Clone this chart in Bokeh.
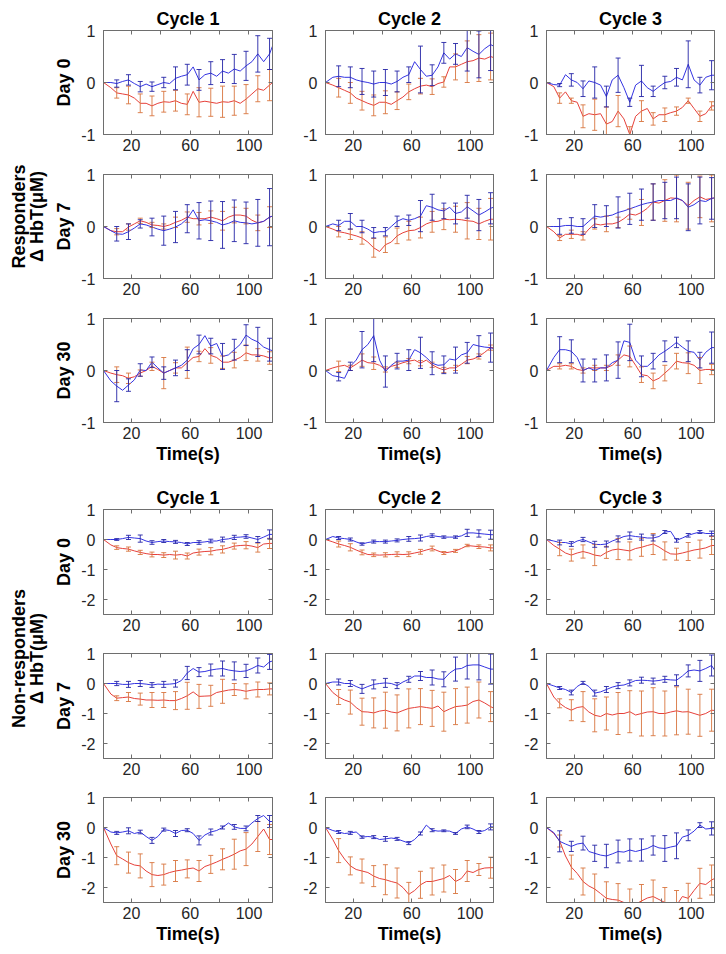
import math
from bokeh.plotting import figure
from bokeh.layouts import row, column
from bokeh.models import Range1d, FixedTicker, LinearAxis, Label, CustomLabelingPolicy
from bokeh.embed import file_html
from bokeh.resources import INLINE

# ---------------- data ----------------
X = [1, 6, 10, 14, 18, 22, 26, 30, 34, 38, 42, 46, 50, 54, 58, 62, 66, 70, 74, 78,
     82, 86, 90, 94, 98, 102, 106, 110, 114, 116]
ERR_X = [10, 18, 26, 34, 42, 50, 58, 66, 74, 82, 90, 98, 106, 114]
XTICKS = [20, 40, 60, 80, 100]
XTICK_LABELS = {20: "20", 40: "", 60: "60", 80: "", 100: "100"}
YTICKS_RESP = [-1, 0, 1]
YTICKS_NONRESP = [-2, -1, 0, 1]
CYCLES = ["Cycle 1", "Cycle 2", "Cycle 3"]
DAYS = ["Day 0", "Day 7", "Day 30"]
GROUPS = ["Responders", "Non-responders"]
YLABEL = "Δ HbT(μM)"
XLABEL = "Time(s)"

# Responders
R_D0_C1_BLUE = [0, 0.0, -0.02, 0.02, 0.05, -0.02, -0.08, -0.03, -0.08, -0.04, 0.0, -0.02, 0.08, 0.12, 0.15, 0.3, 0.05, 0.15, 0.18, 0.12, 0.22, 0.18, 0.26, 0.22, 0.32, 0.4, 0.55, 0.4, 0.55, 0.7]
R_D0_C1_BLUE_ERR = [0.07, 0.1, 0.1, 0.09, 0.1, 0.22, 0.2, 0.2, 0.22, 0.22, 0.28, 0.28, 0.35, 0.3]
R_D0_C1_RED = [0, -0.1, -0.2, -0.22, -0.24, -0.3, -0.4, -0.4, -0.45, -0.4, -0.37, -0.38, -0.35, -0.4, -0.42, -0.17, -0.38, -0.36, -0.38, -0.4, -0.37, -0.38, -0.35, -0.4, -0.32, -0.22, -0.12, -0.15, -0.05, 0.0]
R_D0_C1_RED_ERR = [0.1, 0.17, 0.18, 0.19, 0.2, 0.2, 0.2, 0.28, 0.27, 0.3, 0.28, 0.28, 0.25, 0.3]

R_D0_C2_BLUE = [0, 0.1, 0.12, 0.1, 0.1, 0.05, 0.02, 0.0, -0.03, 0.0, 0.0, -0.03, 0.02, 0.1, 0.15, 0.4, 0.25, 0.12, 0.14, 0.3, 0.57, 0.45, 0.55, 0.5, 0.67, 0.6, 0.54, 0.65, 0.73, 0.7]
R_D0_C2_BLUE_ERR = [0.2, 0.2, 0.25, 0.25, 0.25, 0.2, 0.15, 0.45, 0.2, 0.2, 0.2, 0.45, 0.45, 0.5]
R_D0_C2_RED = [0, -0.05, -0.1, -0.15, -0.2, -0.3, -0.35, -0.4, -0.44, -0.38, -0.38, -0.42, -0.35, -0.28, -0.18, -0.12, -0.07, -0.05, -0.08, -0.02, 0.01, 0.3, 0.3, 0.35, 0.4, 0.42, 0.47, 0.45, 0.5, 0.48]
R_D0_C2_RED_ERR = [0.18, 0.2, 0.18, 0.2, 0.22, 0.17, 0.15, 0.15, 0.15, 0.1, 0.25, 0.4, 0.45, 0.45]

R_D0_C3_BLUE = [0, -0.04, -0.05, 0.15, 0.05, 0.0, -0.12, 0.03, 0.0, -0.05, -0.27, 0.05, 0.14, -0.1, -0.38, -0.05, 0.03, -0.1, -0.17, -0.08, 0.0, 0.02, 0.1, 0.05, 0.35, 0.05, -0.05, 0.1, 0.14, 0.14]
R_D0_C3_BLUE_ERR = [0.03, 0.12, 0.15, 0.3, 0.2, 0.33, 0.08, 0.3, 0.1, 0.12, 0.17, 0.45, 0.15, 0.28]
R_D0_C3_RED = [0, -0.08, -0.3, -0.18, -0.35, -0.38, -0.65, -0.6, -0.62, -0.6, -0.8, -0.75, -0.55, -0.7, -1.0, -0.65, -0.55, -0.5, -0.7, -0.62, -0.62, -0.58, -0.55, -0.48, -0.35, -0.5, -0.65, -0.6, -0.45, -0.45]
R_D0_C3_RED_ERR = [0.1, 0.05, 0.22, 0.3, 0.33, 0.3, 0.15, 0.2, 0.12, 0.13, 0.08, 0.05, 0.1, 0.08]

R_D7_C1_BLUE = [0, -0.08, -0.14, -0.15, -0.1, -0.03, 0.05, 0.03, -0.01, -0.05, -0.08, -0.05, -0.01, 0.05, 0.15, 0.32, 0.11, 0.13, 0.11, 0.08, 0.03, 0.06, 0.11, 0.08, 0.07, 0.05, 0.07, 0.1, 0.18, 0.2]
R_D7_C1_BLUE_ERR = [0.14, 0.15, 0.08, 0.17, 0.28, 0.3, 0.27, 0.35, 0.38, 0.45, 0.4, 0.4, 0.45, 0.55]
R_D7_C1_RED = [0, -0.08, -0.1, -0.1, -0.01, 0.05, 0.11, 0.08, 0.03, 0.02, 0.0, 0.03, 0.08, 0.12, 0.18, 0.15, 0.15, 0.15, 0.18, 0.15, 0.11, 0.18, 0.22, 0.22, 0.2, 0.12, 0.07, 0.1, 0.18, 0.2]
R_D7_C1_RED_ERR = [0.06, 0.06, 0.05, 0.05, 0.05, 0.1, 0.1, 0.12, 0.12, 0.18, 0.15, 0.15, 0.15, 0.2]

R_D7_C2_BLUE = [0, 0.05, 0.02, 0.1, 0.1, 0.0, 0.0, -0.05, -0.12, -0.1, -0.1, 0.0, 0.1, 0.15, 0.12, 0.15, 0.2, 0.4, 0.37, 0.32, 0.3, 0.37, 0.25, 0.28, 0.38, 0.3, 0.22, 0.28, 0.35, 0.37]
R_D7_C2_BLUE_ERR = [0.1, 0.15, 0.12, 0.1, 0.08, 0.1, 0.1, 0.3, 0.25, 0.15, 0.2, 0.22, 0.3, 0.3]
R_D7_C2_RED = [0, -0.05, -0.1, -0.12, -0.15, -0.18, -0.22, -0.3, -0.41, -0.48, -0.35, -0.3, -0.18, -0.12, -0.08, -0.07, -0.02, 0.05, 0.09, 0.1, 0.14, 0.13, 0.14, 0.13, 0.11, 0.1, 0.05, 0.1, 0.14, 0.14]
R_D7_C2_RED_ERR = [0.1, 0.1, 0.12, 0.18, 0.15, 0.15, 0.18, 0.2, 0.2, 0.2, 0.25, 0.35, 0.3, 0.4]

R_D7_C3_BLUE = [0, 0.0, 0.0, 0.02, 0.02, 0.0, 0.0, 0.1, 0.2, 0.18, 0.2, 0.22, 0.27, 0.3, 0.34, 0.38, 0.42, 0.45, 0.47, 0.5, 0.5, 0.5, 0.55, 0.5, 0.37, 0.42, 0.5, 0.48, 0.54, 0.55]
R_D7_C3_BLUE_ERR = [0.15, 0.15, 0.15, 0.22, 0.2, 0.3, 0.3, 0.3, 0.35, 0.35, 0.4, 0.45, 0.45, 0.4]
R_D7_C3_RED = [0, -0.1, -0.22, -0.15, -0.15, -0.15, -0.18, -0.05, 0.05, 0.03, 0.05, 0.05, 0.08, 0.15, 0.24, 0.22, 0.27, 0.35, 0.47, 0.45, 0.5, 0.55, 0.54, 0.5, 0.4, 0.5, 0.57, 0.52, 0.54, 0.55]
R_D7_C3_RED_ERR = [0.05, 0.08, 0.08, 0.1, 0.15, 0.1, 0.1, 0.25, 0.35, 0.4, 0.45, 0.45, 0.4, 0.45]

R_D30_C1_BLUE = [0, -0.2, -0.3, -0.38, -0.28, -0.18, 0.01, 0.0, 0.16, 0.05, -0.05, 0.0, 0.05, 0.1, 0.2, 0.42, 0.5, 0.67, 0.47, 0.52, 0.27, 0.3, 0.4, 0.5, 0.68, 0.6, 0.55, 0.45, 0.4, 0.38]
R_D30_C1_BLUE_ERR = [0.3, 0.12, 0.12, 0.1, 0.12, 0.15, 0.2, 0.18, 0.15, 0.25, 0.2, 0.2, 0.28, 0.22]
R_D30_C1_RED = [0, -0.05, -0.08, -0.1, -0.15, -0.12, -0.05, 0.0, 0.08, 0.02, -0.05, 0.0, 0.05, 0.05, 0.15, 0.25, 0.27, 0.42, 0.29, 0.25, 0.16, 0.16, 0.2, 0.25, 0.34, 0.3, 0.3, 0.28, 0.24, 0.25]
R_D30_C1_RED_ERR = [0.15, 0.1, 0.06, 0.08, 0.3, 0.1, 0.3, 0.1, 0.15, 0.12, 0.15, 0.15, 0.12, 0.12]

R_D30_C2_BLUE = [0, -0.1, -0.12, -0.15, 0.08, 0.2, 0.4, 0.5, 0.67, 0.2, -0.02, 0.1, 0.18, 0.18, 0.2, 0.4, 0.34, 0.25, 0.14, 0.1, 0.11, 0.22, 0.2, 0.3, 0.34, 0.5, 0.47, 0.45, 0.44, 0.42]
R_D30_C2_BLUE_ERR = [0.08, 0.08, 0.35, 0.5, 0.3, 0.15, 0.2, 0.3, 0.22, 0.17, 0.25, 0.2, 0.2, 0.28]
R_D30_C2_RED = [0, 0.05, 0.08, 0.1, 0.05, 0.12, 0.2, 0.15, 0.14, 0.1, 0.02, 0.08, 0.11, 0.15, 0.18, 0.2, 0.14, 0.2, 0.11, 0.05, 0.01, 0.05, 0.05, 0.12, 0.2, 0.22, 0.27, 0.35, 0.44, 0.44]
R_D30_C2_RED_ERR = [0.1, 0.05, 0.12, 0.12, 0.05, 0.05, 0.05, 0.05, 0.05, 0.05, 0.05, 0.07, 0.05, 0.05]

R_D30_C3_BLUE = [0, 0.25, 0.4, 0.4, 0.37, 0.25, 0.0, 0.05, 0.0, 0.05, 0.05, 0.15, 0.2, 0.57, 0.54, 0.2, 0.08, 0.08, 0.18, 0.3, 0.37, 0.45, 0.54, 0.45, 0.37, 0.35, 0.2, 0.35, 0.44, 0.44]
R_D30_C3_BLUE_ERR = [0.25, 0.22, 0.22, 0.22, 0.25, 0.35, 0.35, 0.2, 0.15, 0.2, 0.1, 0.2, 0.15, 0.3]
R_D30_C3_RED = [0, 0.08, 0.08, 0.1, 0.08, 0.02, 0.0, 0.05, 0.05, 0.05, 0.05, 0.1, 0.2, 0.3, 0.27, 0.1, -0.08, -0.1, -0.2, -0.15, -0.05, 0.05, 0.18, 0.15, 0.14, 0.1, 0.0, 0.02, 0.02, 0.02]
R_D30_C3_RED_ERR = [0.05, 0.05, 0.05, 0.05, 0.05, 0.1, 0.2, 0.15, 0.15, 0.15, 0.15, 0.2, 0.25, 0.1]

# Non-responders
NR_D0_C1_BLUE = [0, 0.0, 0.0, 0.03, 0.07, 0.05, 0.03, -0.05, -0.1, -0.07, -0.05, -0.07, -0.08, -0.1, -0.15, -0.1, -0.1, -0.08, -0.05, -0.05, 0.0, 0.02, 0.07, 0.08, 0.1, 0.05, 0.0, 0.08, 0.17, 0.17]
NR_D0_C1_BLUE_ERR = [0.03, 0.07, 0.12, 0.06, 0.05, 0.05, 0.05, 0.06, 0.06, 0.08, 0.07, 0.06, 0.1, 0.15]
NR_D0_C1_RED = [0, -0.18, -0.27, -0.3, -0.32, -0.38, -0.43, -0.47, -0.5, -0.5, -0.52, -0.5, -0.52, -0.5, -0.55, -0.45, -0.42, -0.4, -0.39, -0.35, -0.33, -0.28, -0.22, -0.2, -0.19, -0.22, -0.27, -0.15, -0.13, -0.13]
NR_D0_C1_RED_ERR = [0.06, 0.07, 0.07, 0.08, 0.08, 0.13, 0.1, 0.1, 0.12, 0.12, 0.1, 0.12, 0.15, 0.17]

NR_D0_C2_BLUE = [0, 0.1, 0.05, 0.03, 0.0, -0.08, -0.15, -0.1, -0.07, -0.07, -0.07, -0.05, -0.03, 0.0, 0.02, 0.03, 0.05, 0.1, 0.13, 0.1, 0.08, 0.08, 0.08, 0.12, 0.22, 0.22, 0.2, 0.18, 0.16, 0.16]
NR_D0_C2_BLUE_ERR = [0.05, 0.05, 0.04, 0.05, 0.05, 0.05, 0.08, 0.1, 0.06, 0.04, 0.04, 0.12, 0.12, 0.15]
NR_D0_C2_RED = [0, -0.08, -0.15, -0.2, -0.26, -0.35, -0.43, -0.5, -0.51, -0.52, -0.51, -0.5, -0.49, -0.5, -0.49, -0.45, -0.41, -0.35, -0.3, -0.38, -0.45, -0.42, -0.38, -0.3, -0.2, -0.22, -0.24, -0.25, -0.28, -0.28]
NR_D0_C2_RED_ERR = [0.1, 0.12, 0.08, 0.06, 0.07, 0.08, 0.08, 0.08, 0.08, 0.05, 0.05, 0.04, 0.06, 0.1]

NR_D0_C3_BLUE = [0, -0.05, -0.1, -0.1, -0.15, -0.05, 0.0, -0.08, -0.16, -0.17, -0.15, -0.05, 0.02, 0.1, 0.13, 0.1, 0.08, 0.05, 0.05, 0.1, 0.25, 0.27, -0.03, 0.05, 0.14, 0.2, 0.25, 0.2, 0.2, 0.2]
NR_D0_C3_BLUE_ERR = [0.08, 0.08, 0.07, 0.1, 0.1, 0.1, 0.12, 0.1, 0.1, 0.05, 0.06, 0.06, 0.05, 0.08]
NR_D0_C3_RED = [0, -0.2, -0.32, -0.45, -0.52, -0.45, -0.4, -0.45, -0.52, -0.55, -0.43, -0.35, -0.32, -0.35, -0.38, -0.3, -0.26, -0.2, -0.15, -0.25, -0.38, -0.48, -0.49, -0.45, -0.4, -0.35, -0.32, -0.28, -0.2, -0.2]
NR_D0_C3_RED_ERR = [0.22, 0.2, 0.22, 0.35, 0.2, 0.35, 0.3, 0.3, 0.35, 0.3, 0.2, 0.3, 0.3, 0.3]

NR_D7_C1_BLUE = [0, 0.0, 0.0, -0.03, -0.03, 0.0, 0.0, -0.02, -0.05, -0.02, -0.03, -0.02, 0.0, 0.1, 0.35, 0.5, 0.38, 0.4, 0.45, 0.48, 0.5, 0.45, 0.42, 0.4, 0.42, 0.5, 0.6, 0.55, 0.72, 0.75]
NR_D7_C1_BLUE_ERR = [0.07, 0.1, 0.1, 0.08, 0.1, 0.12, 0.22, 0.15, 0.2, 0.25, 0.3, 0.22, 0.25, 0.25]
NR_D7_C1_RED = [0, -0.35, -0.49, -0.47, -0.45, -0.5, -0.52, -0.55, -0.55, -0.56, -0.55, -0.57, -0.57, -0.5, -0.41, -0.28, -0.43, -0.42, -0.41, -0.3, -0.26, -0.22, -0.2, -0.22, -0.26, -0.22, -0.2, -0.2, -0.18, -0.18]
NR_D7_C1_RED_ERR = [0.08, 0.15, 0.2, 0.25, 0.25, 0.3, 0.45, 0.4, 0.35, 0.4, 0.2, 0.25, 0.25, 0.2]

NR_D7_C2_BLUE = [0, 0.05, 0.05, 0.0, 0.0, -0.1, -0.18, -0.1, -0.03, 0.0, 0.02, 0.0, -0.07, 0.05, 0.14, 0.25, 0.25, 0.2, 0.2, 0.15, 0.14, 0.35, 0.48, 0.5, 0.6, 0.62, 0.62, 0.55, 0.48, 0.48]
NR_D7_C2_BLUE_ERR = [0.1, 0.1, 0.15, 0.15, 0.15, 0.1, 0.1, 0.15, 0.25, 0.25, 0.4, 0.45, 0.5, 0.5]
NR_D7_C2_RED = [0, -0.3, -0.45, -0.55, -0.62, -0.8, -0.94, -0.95, -0.98, -0.92, -0.89, -0.95, -0.98, -0.9, -0.83, -0.8, -0.77, -0.8, -0.83, -0.75, -0.94, -0.85, -0.77, -0.75, -0.72, -0.6, -0.55, -0.65, -0.77, -0.82]
NR_D7_C2_RED_ERR = [0.25, 0.4, 0.45, 0.5, 0.6, 0.6, 0.65, 0.6, 0.6, 0.65, 0.6, 0.6, 0.6, 0.5]

NR_D7_C3_BLUE = [0, -0.08, -0.15, -0.2, -0.3, -0.1, 0.02, -0.1, -0.32, -0.28, -0.2, -0.12, -0.07, -0.05, 0.02, 0.1, 0.11, 0.1, 0.08, 0.1, 0.14, 0.12, 0.11, 0.25, 0.42, 0.45, 0.42, 0.5, 0.6, 0.45]
NR_D7_C3_BLUE_ERR = [0.05, 0.08, 0.05, 0.1, 0.1, 0.1, 0.1, 0.1, 0.1, 0.1, 0.18, 0.2, 0.35, 0.35]
NR_D7_C3_RED = [0, -0.45, -0.66, -0.8, -0.89, -0.8, -0.77, -0.95, -1.06, -1.1, -1.0, -1.05, -1.0, -1.0, -0.94, -1.05, -1.0, -0.95, -0.94, -1.0, -1.0, -0.95, -0.91, -0.95, -0.94, -1.0, -1.06, -1.0, -0.89, -0.9]
NR_D7_C3_RED_ERR = [0.15, 0.35, 0.5, 0.55, 0.55, 0.7, 0.7, 0.75, 0.8, 0.75, 0.8, 0.75, 0.7, 0.7]

NR_D30_C1_BLUE = [0, -0.15, -0.18, -0.15, -0.11, -0.2, -0.15, -0.3, -0.43, -0.3, -0.07, -0.1, -0.2, -0.1, -0.09, -0.2, -0.43, -0.25, -0.15, -0.1, 0.0, 0.15, 0.02, -0.03, -0.03, 0.15, 0.3, 0.4, 0.2, 0.2]
NR_D30_C1_BLUE_ERR = [0.05, 0.1, 0.06, 0.1, 0.05, 0.1, 0.05, 0.15, 0.1, 0.05, 0.08, 0.08, 0.1, 0.2]
NR_D30_C1_RED = [0, -0.55, -0.94, -1.05, -1.17, -1.25, -1.28, -1.45, -1.57, -1.6, -1.57, -1.5, -1.45, -1.42, -1.38, -1.35, -1.45, -1.3, -1.23, -1.15, -1.06, -0.98, -0.89, -0.78, -0.72, -0.55, -0.3, -0.05, -0.4, -0.4]
NR_D30_C1_RED_ERR = [0.3, 0.35, 0.4, 0.4, 0.35, 0.35, 0.3, 0.35, 0.3, 0.35, 0.5, 0.55, 0.5, 0.5]

NR_D30_C2_BLUE = [0, -0.1, -0.15, -0.2, -0.18, -0.15, -0.32, -0.3, -0.32, -0.4, -0.38, -0.35, -0.38, -0.45, -0.52, -0.4, -0.2, 0.08, -0.09, -0.12, -0.11, -0.12, -0.2, -0.05, 0.02, -0.05, -0.15, -0.1, 0.02, 0.02]
NR_D30_C2_BLUE_ERR = [0.05, 0.05, 0.04, 0.05, 0.08, 0.05, 0.05, 0.05, 0.05, 0.03, 0.03, 0.06, 0.05, 0.1]
NR_D30_C2_RED = [0, -0.4, -0.77, -1.05, -1.28, -1.4, -1.45, -1.5, -1.62, -1.7, -1.74, -1.8, -1.85, -2.0, -2.23, -2.1, -1.91, -1.8, -1.8, -1.75, -1.7, -1.6, -1.8, -1.7, -1.45, -1.5, -1.4, -1.35, -1.34, -1.34]
NR_D30_C2_RED_ERR = [0.4, 0.3, 0.4, 0.35, 0.5, 0.5, 0.4, 0.45, 0.45, 0.45, 0.4, 0.35, 0.2, 0.35]

NR_D30_C3_BLUE = [0, -0.17, -0.46, -0.55, -0.63, -0.55, -0.52, -0.8, -0.86, -0.92, -0.95, -0.88, -0.8, -0.82, -0.75, -0.8, -0.75, -0.7, -0.6, -0.68, -0.7, -0.65, -0.61, -0.32, -0.26, -0.12, 0.08, -0.05, -0.03, -0.05]
NR_D30_C3_BLUE_ERR = [0.35, 0.17, 0.23, 0.27, 0.39, 0.38, 0.37, 0.37, 0.32, 0.43, 0.43, 0.18, 0.08, 0.22]
NR_D30_C3_RED = [0, -0.2, -0.45, -0.95, -1.32, -1.53, -1.8, -1.95, -2.05, -2.2, -2.36, -2.4, -2.42, -2.5, -2.6, -2.55, -2.45, -2.35, -2.3, -2.4, -2.5, -2.55, -2.6, -2.3, -2.36, -2.1, -1.86, -1.9, -1.75, -1.7]
NR_D30_C3_RED_ERR = [0.2, 0.4, 0.45, 0.5, 0.55, 0.55, 0.55, 0.55, 0.55, 0.5, 0.5, 0.5, 0.5, 0.5]

PANELS = [
    [(R_D0_C1_BLUE, R_D0_C1_BLUE_ERR, R_D0_C1_RED, R_D0_C1_RED_ERR),
     (R_D0_C2_BLUE, R_D0_C2_BLUE_ERR, R_D0_C2_RED, R_D0_C2_RED_ERR),
     (R_D0_C3_BLUE, R_D0_C3_BLUE_ERR, R_D0_C3_RED, R_D0_C3_RED_ERR)],
    [(R_D7_C1_BLUE, R_D7_C1_BLUE_ERR, R_D7_C1_RED, R_D7_C1_RED_ERR),
     (R_D7_C2_BLUE, R_D7_C2_BLUE_ERR, R_D7_C2_RED, R_D7_C2_RED_ERR),
     (R_D7_C3_BLUE, R_D7_C3_BLUE_ERR, R_D7_C3_RED, R_D7_C3_RED_ERR)],
    [(R_D30_C1_BLUE, R_D30_C1_BLUE_ERR, R_D30_C1_RED, R_D30_C1_RED_ERR),
     (R_D30_C2_BLUE, R_D30_C2_BLUE_ERR, R_D30_C2_RED, R_D30_C2_RED_ERR),
     (R_D30_C3_BLUE, R_D30_C3_BLUE_ERR, R_D30_C3_RED, R_D30_C3_RED_ERR)],
    [(NR_D0_C1_BLUE, NR_D0_C1_BLUE_ERR, NR_D0_C1_RED, NR_D0_C1_RED_ERR),
     (NR_D0_C2_BLUE, NR_D0_C2_BLUE_ERR, NR_D0_C2_RED, NR_D0_C2_RED_ERR),
     (NR_D0_C3_BLUE, NR_D0_C3_BLUE_ERR, NR_D0_C3_RED, NR_D0_C3_RED_ERR)],
    [(NR_D7_C1_BLUE, NR_D7_C1_BLUE_ERR, NR_D7_C1_RED, NR_D7_C1_RED_ERR),
     (NR_D7_C2_BLUE, NR_D7_C2_BLUE_ERR, NR_D7_C2_RED, NR_D7_C2_RED_ERR),
     (NR_D7_C3_BLUE, NR_D7_C3_BLUE_ERR, NR_D7_C3_RED, NR_D7_C3_RED_ERR)],
    [(NR_D30_C1_BLUE, NR_D30_C1_BLUE_ERR, NR_D30_C1_RED, NR_D30_C1_RED_ERR),
     (NR_D30_C2_BLUE, NR_D30_C2_BLUE_ERR, NR_D30_C2_RED, NR_D30_C2_RED_ERR),
     (NR_D30_C3_BLUE, NR_D30_C3_BLUE_ERR, NR_D30_C3_RED, NR_D30_C3_RED_ERR)],
]

# ---------------- style / layout ----------------
FONT = "Liberation Sans"
AX = "#6e6e6e"
TXT = "#262626"
BLUE_LINE = "#3434e2"
BLUE_ERR = "#2525a6"
RED_LINE = "#e6403a"
RED_ERR = "#d8763f"
CAP = 1.7

STRIP_W = 48
COLS = [(55, 169, 13), (40, 168, 13), (40, 168, 6)]           # left border, frame, right border
ROWS = [(30, 104, 24), (16, 104, 24), (16, 104, 48),          # top, frame, bottom
        (39, 105, 24), (15, 105, 24), (15, 105, 48)]


def make_panel(ri, ci, data):
    blue, blue_err, red, red_err = data
    bl, fw, br = COLS[ci]
    bt, fh, bb = ROWS[ri]
    resp = ri < 3
    yr = Range1d(-1, 1) if resp else Range1d(-2.5, 1)
    yt = YTICKS_RESP if resp else YTICKS_NONRESP
    p = figure(width=bl + fw + br, height=bt + fh + bb,
               x_range=Range1d(1, 116), y_range=yr,
               output_backend="svg", toolbar_location=None,
               min_border_left=bl, min_border_right=br,
               min_border_top=bt, min_border_bottom=bb)
    p.xgrid.visible = False
    p.ygrid.visible = False
    p.outline_line_color = AX
    p.outline_line_width = 1
    p.background_fill_color = "white"
    p.border_fill_color = "white"

    xa = p.xaxis[0]
    ya = p.yaxis[0]
    for ax, ticks in ((xa, XTICKS), (ya, yt)):
        ax.ticker = FixedTicker(ticks=ticks)
        ax.major_tick_in = 4
        ax.major_tick_out = 0
        ax.minor_tick_line_color = None
        ax.axis_line_color = AX
        ax.major_tick_line_color = AX
        ax.major_label_text_font = FONT
        ax.major_label_text_font_size = "16px"
        ax.major_label_text_color = TXT
        ax.major_label_standoff = 4
        ax.axis_label_text_font = FONT
        ax.axis_label_text_font_size = "18px"
        ax.axis_label_text_font_style = "bold"
        ax.axis_label_text_color = "black"
        ax.axis_label_standoff = 2
    xa.major_label_overrides = XTICK_LABELS
    ya.major_label_overrides = {t: str(t) for t in yt}
    ya.major_label_standoff = 8
    ya.axis_label_standoff = 4

    if ci == 0:
        ya.axis_label = DAYS[ri % 3]
    if ri % 3 == 2:
        xa.axis_label = XLABEL

    # tick marks on the top and right edges (box style), no labels
    for loc, ticks in (("above", XTICKS), ("right", yt)):
        a = LinearAxis(ticker=FixedTicker(ticks=ticks), major_tick_in=4, major_tick_out=0,
                       minor_tick_line_color=None, axis_line_color=AX,
                       major_tick_line_color=AX, major_label_text_font_size="0px",
                       major_label_standoff=0,
                       major_label_policy=CustomLabelingPolicy(code="return []"))
        p.add_layout(a, loc)

    if ri % 3 == 0:
        p.title.text = CYCLES[ci]
        p.title.align = "center"
        p.title.text_font = FONT
        p.title.text_font_size = "18px"
        p.title.text_font_style = "bold"
        p.title.text_color = "black"
        p.title.standoff = 4

    # lines
    p.line(X, red, line_color=RED_LINE, line_width=1)
    p.line(X, blue, line_color=BLUE_LINE, line_width=1)

    # error bars
    for series, errs, col in ((red, red_err, RED_ERR), (blue, blue_err, BLUE_ERR)):
        cx = list(ERR_X[:len(errs)])
        cy = [series[X.index(x)] for x in cx]
        lo = [c - e for c, e in zip(cy, errs)]
        hi = [c + e for c, e in zip(cy, errs)]
        p.segment(x0=cx, y0=lo, x1=cx, y1=hi, line_color=col, line_width=1, line_alpha=0.9)
        p.segment(x0=[x - CAP for x in cx], y0=lo, x1=[x + CAP for x in cx], y1=lo,
                  line_color=col, line_width=1, line_alpha=0.9)
        p.segment(x0=[x - CAP for x in cx], y0=hi, x1=[x + CAP for x in cx], y1=hi,
                  line_color=col, line_width=1, line_alpha=0.9)
    return p


rows = []
for ri in range(6):
    figs = [make_panel(ri, ci, PANELS[ri][ci]) for ci in range(3)]
    rows.append(row(*figs, spacing=0))
grid = column(*rows, spacing=0)

TOTAL_H = sum(t + f + b for t, f, b in ROWS)
lab = figure(width=STRIP_W, height=TOTAL_H, x_range=Range1d(0, STRIP_W), y_range=Range1d(TOTAL_H, 0),
             output_backend="svg", toolbar_location=None, min_border=0,
             x_axis_location=None, y_axis_location=None)
lab.outline_line_color = None
lab.background_fill_color = "white"
lab.border_fill_color = "white"
lab.grid.visible = False

GROUP_LABEL_POS = [(18, 36, 216), (18, 36, 658)]   # x of line 1, x of line 2, y centre (screen px)
for name, (x1, x2, yc) in zip(GROUPS, GROUP_LABEL_POS):
    for txt, xx in ((name, x1), (YLABEL, x2)):
        lab.add_layout(Label(x=xx, y=yc, text=txt, angle=math.pi / 2,
                             text_align="center", text_baseline="middle",
                             text_font=FONT, text_font_size="18px",
                             text_font_style="bold", text_color="black"))

layout = row(lab, grid, spacing=0)
open("out.html", "w").write(file_html(layout, INLINE))
